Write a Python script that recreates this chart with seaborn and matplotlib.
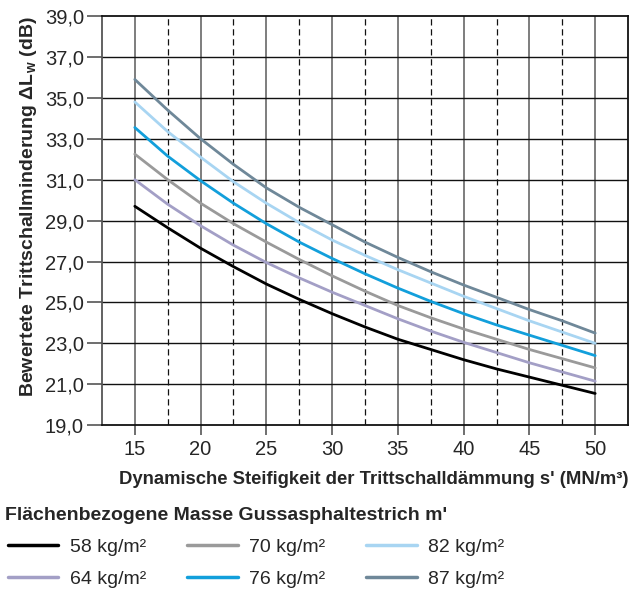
import numpy as np
import pandas as pd
import seaborn as sns
import matplotlib.pyplot as plt
from matplotlib.ticker import FuncFormatter

# dynamische Steifigkeit s' (MN/m³)
steifigkeit = [15, 17.5, 20, 22.5, 25, 27.5, 30, 32.5, 35, 37.5, 40, 42.5, 45, 47.5, 50]

# Trittschallminderung (dB)
m58 = [29.7, 28.65, 27.65, 26.75, 25.9, 25.15, 24.45, 23.8, 23.2, 22.7, 22.2, 21.75, 21.35, 20.95, 20.55]
m64 = [31.0, 29.8, 28.75, 27.8, 26.95, 26.2, 25.5, 24.85, 24.2, 23.6, 23.05, 22.55, 22.05, 21.6, 21.15]
m70 = [32.25, 31.0, 29.85, 28.85, 27.95, 27.1, 26.3, 25.55, 24.85, 24.25, 23.7, 23.2, 22.7, 22.25, 21.8]
m76 = [33.55, 32.15, 30.95, 29.85, 28.85, 27.95, 27.15, 26.4, 25.7, 25.05, 24.45, 23.9, 23.4, 22.9, 22.4]
m82 = [34.8, 33.35, 32.1, 30.9, 29.85, 28.9, 28.05, 27.3, 26.6, 25.95, 25.3, 24.7, 24.1, 23.55, 23.0]
m87 = [35.9, 34.4, 33.0, 31.75, 30.6, 29.65, 28.8, 27.95, 27.2, 26.5, 25.85, 25.25, 24.65, 24.1, 23.5]

labels = ['58 kg/m²', '64 kg/m²', '70 kg/m²', '76 kg/m²', '82 kg/m²', '87 kg/m²']
colors = ['#000000', '#a39fc6', '#9a9a9a', '#129fdb', '#a8d5f2', '#6f8899']

x_ticks = [15, 20, 25, 30, 35, 40, 45, 50]
x_dashed = [17.5, 22.5, 27.5, 32.5, 37.5, 42.5, 47.5]
y_ticks = [19, 21, 23, 25, 27, 29, 31, 33, 35, 37, 39]

df = pd.DataFrame({'s': steifigkeit})
for lab, vals in zip(labels, [m58, m64, m70, m76, m82, m87]):
    df[lab] = vals
df = df.melt(id_vars='s', var_name='m', value_name='dL')

sns.set_style('white')
plt.rcParams['font.family'] = ['Liberation Sans', 'DejaVu Sans']
plt.rcParams['mathtext.fontset'] = 'custom'
plt.rcParams['mathtext.bf'] = 'Liberation Sans:bold'
plt.rcParams['mathtext.rm'] = 'Liberation Sans'

fig, ax = plt.subplots(figsize=(6.37, 5.93), dpi=100)
fig.subplots_adjust(left=0.160, right=0.986, top=0.973, bottom=0.283)

sns.lineplot(data=df, x='s', y='dL', hue='m', palette=dict(zip(labels, colors)),
             linewidth=2.0, ax=ax, zorder=3)

ax.set_xlim(12.5, 52.5)
ax.set_ylim(19, 39)
ax.set_xticks(x_ticks)
ax.set_yticks(y_ticks)
ax.yaxis.set_major_formatter(FuncFormatter(lambda v, p: f'{v:.1f}'.replace('.', ',')))

# gitter
for xv in x_ticks:
    ax.axvline(xv, color='#5a5a5a', lw=1.1, zorder=1)
for xv in x_dashed:
    ax.axvline(xv, color='#111111', lw=0.9, ls=(0, (5, 3)), zorder=1)
for yv in y_ticks[1:-1]:
    ax.axhline(yv, color='#111111', lw=1.0, zorder=1)

for sp in ax.spines.values():
    sp.set_color('#111111')
    sp.set_linewidth(1.3)
ax.spines['left'].set_color('#555555')

ax.tick_params(axis='y', length=11, width=1.2, color='#555555',
               labelsize=14.5, pad=2, left=True)
ax.tick_params(axis='x', length=7, width=1.2, color='#555555',
               labelsize=14.5, pad=4, bottom=True)

ax.set_xlabel("Dynamische Steifigkeit der Trittschalldämmung s' (MN/m³)",
              fontsize=13.3, fontweight='bold', labelpad=8, loc='right')
ax.set_ylabel(r'Bewertete Trittschallminderung ΔL$_{\mathbf{w}}$ (dB)',
              fontsize=14, fontweight='bold', labelpad=4, loc='top')

h, l = ax.get_legend_handles_labels()
ax.get_legend().remove()
for hh in h:
    hh.set_linewidth(2.5)

fig.text(0.008, 1 - 515 / 593, "Flächenbezogene Masse Gussasphaltestrich m'",
         fontsize=14, fontweight='bold', va='center', ha='left')
fig.legend(h, l, ncol=3, loc='upper left', bbox_to_anchor=(0.012, 1 - 538 / 593),
           frameon=False, fontsize=14, handlelength=2.6, handletextpad=0.6,
           columnspacing=2.1, labelspacing=0.75, borderpad=0, borderaxespad=0)

fig.savefig('out.png', dpi=100)
